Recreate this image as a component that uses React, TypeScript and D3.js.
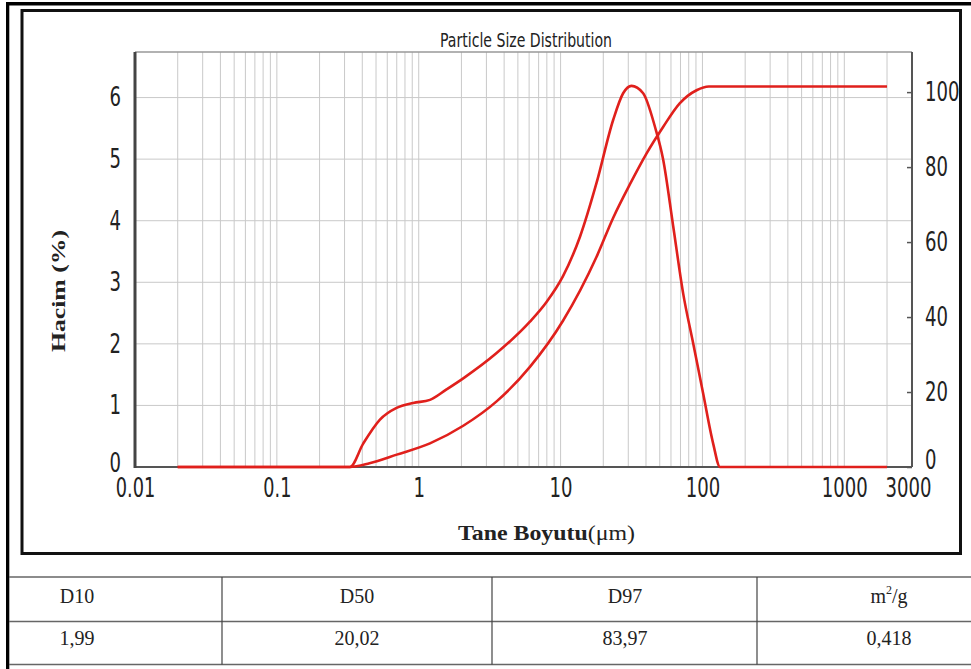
import * as d3 from 'd3';
import React, { useEffect, useRef } from 'react';

// frequency curve (Hacim %, left axis)
const freqSize = [0.02, 0.327, 0.406, 0.533, 0.698, 0.914, 1.2, 1.57, 2.06, 3.54, 6.08, 7.96, 10.4, 13.7, 17.9, 23.5, 27.6, 31.6, 38.2, 46.2, 52.8, 62.2, 73.1, 86, 101, 119, 133, 2000];
const freqVolume = [0, 0, 0.38, 0.77, 0.96, 1.04, 1.09, 1.26, 1.44, 1.85, 2.36, 2.68, 3.1, 3.74, 4.61, 5.64, 6.07, 6.19, 6.07, 5.53, 5.0, 3.91, 2.82, 2.01, 1.2, 0.38, 0, 0];

// cumulative curve (right axis)
const cumSize = [0.02, 0.327, 0.45, 0.7, 1.2, 2.06, 3.54, 6.08, 10.4, 17.9, 23.5, 30.9, 40.3, 52.8, 69.1, 90.9, 111, 2000];
const cumVolume = [0, 0, 1, 3.3, 6.3, 11, 17.5, 26.7, 39, 56, 66.5, 75.5, 83.6, 90.7, 97, 100.5, 101.5, 101.5];

const xTicks = [0.01, 0.1, 1, 10, 100, 1000, 3000];
const leftTicks = [0, 1, 2, 3, 4, 5, 6];
const rightTicks = [0, 20, 40, 60, 80, 100];

const tableHeaders = ['D10', 'D50', 'D97', 'm²/g'];
const tableValues = ['1,99', '20,02', '83,97', '0,418'];

const NARROW = "'Liberation Sans Narrow', 'DejaVu Sans Condensed', sans-serif";
const SERIF = "'Liberation Serif', 'Times New Roman', serif";
const RED = '#e0201c';

// narrow digits: about 11.5px per digit, 5px for a dot
const labelWidth = (s: string) => s.replace('.', '').length * 11.5 + (s.includes('.') ? 5 : 0);

export default function App() {
  const ref = useRef<SVGSVGElement>(null);

  useEffect(() => {
    const svg = d3.select(ref.current);
    svg.selectAll('*').remove();

    const left = 135, right = 912, top = 52, bottom = 467;
    const x = d3.scaleLog().domain([0.01, 3000]).range([left, right]);
    const yL = d3.scaleLinear().domain([0, 6.74]).range([bottom, top]);
    const yR = d3.scaleLinear().domain([0, 110.7]).range([bottom, top]);

    svg.append('rect').attr('width', 971).attr('height', 669).attr('fill', '#fff');

    // frames
    svg.append('rect').attr('x', 6).attr('y', 2).attr('width', 965).attr('height', 3.5).attr('fill', '#000');
    svg.append('rect').attr('x', 6).attr('y', 2).attr('width', 3.3).attr('height', 667).attr('fill', '#000');
    svg.append('rect').attr('x', 22).attr('y', 10.5).attr('width', 938.5).attr('height', 543)
      .attr('fill', 'none').attr('stroke', '#111').attr('stroke-width', 3);

    // grid
    const grid = svg.append('g');
    grid.selectAll('line.v')
      .data(x.ticks().filter(d => d > 0.01 && d < 3000))
      .enter().append('line')
      .attr('x1', d => x(d)).attr('x2', d => x(d))
      .attr('y1', top).attr('y2', bottom)
      .attr('stroke', '#c9c9c9').attr('stroke-width', 1);
    grid.selectAll('line.h')
      .data(leftTicks.filter(d => d > 0))
      .enter().append('line')
      .attr('x1', left).attr('x2', right)
      .attr('y1', d => yL(d)).attr('y2', d => yL(d))
      .attr('stroke', '#c9c9c9').attr('stroke-width', 1);

    // plot frame
    svg.append('line').attr('x1', left).attr('x2', right).attr('y1', top).attr('y2', top)
      .attr('stroke', '#999').attr('stroke-width', 1.5);
    svg.append('line').attr('x1', right).attr('x2', right).attr('y1', top).attr('y2', bottom)
      .attr('stroke', '#555').attr('stroke-width', 2);
    svg.append('line').attr('x1', left).attr('x2', right).attr('y1', bottom).attr('y2', bottom)
      .attr('stroke', '#555').attr('stroke-width', 2);
    svg.append('line').attr('x1', left).attr('x2', left).attr('y1', top).attr('y2', bottom + 1)
      .attr('stroke', '#444').attr('stroke-width', 3);

    // axes
    const styleAxis = (g: any) => {
      g.select('.domain').remove();
      g.selectAll('text')
        .attr('font-family', NARROW).attr('font-size', 26).attr('fill', '#222')
        .attr('textLength', (d: number) => labelWidth(String(d)))
        .attr('lengthAdjust', 'spacingAndGlyphs');
    };
    svg.append('g').attr('transform', `translate(0,${bottom})`)
      .call(d3.axisBottom(x).tickValues(xTicks).tickSize(0).tickPadding(12).tickFormat(d => String(d)))
      .call(styleAxis)
      .call(g => g.selectAll('.tick text').filter((d: any) => d === 3000).attr('x', -4));
    svg.append('g').attr('transform', `translate(${left},0)`)
      .call(d3.axisLeft(yL).tickValues(leftTicks).tickSize(0).tickPadding(14).tickFormat(d => String(d)))
      .call(styleAxis)
      .call(g => g.selectAll('.tick text').filter((d: any) => d === 0).attr('y', -4));
    svg.append('g').attr('transform', `translate(${right},0)`)
      .call(d3.axisRight(yR).tickValues(rightTicks).tickSize(-5).tickPadding(13).tickFormat(d => String(d)))
      .call(styleAxis)
      .call(g => g.selectAll('.tick line').attr('stroke', '#555').attr('stroke-width', 1.5))
      .call(g => g.selectAll('.tick text').filter((d: any) => d === 0).attr('y', -7));

    // curves
    const freqLine = d3.line<number>()
      .x((d, i) => x(freqSize[i]))
      .y(d => yL(d))
      .curve(d3.curveMonotoneX);
    const cumLine = d3.line<number>()
      .x((d, i) => x(cumSize[i]))
      .y(d => yR(d))
      .curve(d3.curveMonotoneX);
    svg.append('path').attr('d', cumLine(cumVolume)).attr('fill', 'none')
      .attr('stroke', RED).attr('stroke-width', 2.6);
    svg.append('path').attr('d', freqLine(freqVolume)).attr('fill', 'none')
      .attr('stroke', RED).attr('stroke-width', 2.6);

    // titles
    svg.append('text').attr('x', 526).attr('y', 47).attr('text-anchor', 'middle')
      .attr('font-family', NARROW).attr('font-size', 20).attr('fill', '#222')
      .attr('textLength', 172).attr('lengthAdjust', 'spacingAndGlyphs')
      .text('Particle Size Distribution');

    const xl = svg.append('text').attr('x', 458).attr('y', 540)
      .attr('font-family', SERIF).attr('font-size', 21).attr('fill', '#222')
      .attr('textLength', 177).attr('lengthAdjust', 'spacingAndGlyphs');
    xl.append('tspan').attr('font-weight', 'bold').text('Tane Boyutu');
    xl.append('tspan').text('(μm)');

    svg.append('text').attr('transform', 'translate(65,291) rotate(-90)')
      .attr('text-anchor', 'middle')
      .attr('font-family', SERIF).attr('font-size', 19).attr('font-weight', 'bold').attr('fill', '#222')
      .attr('textLength', 122).attr('lengthAdjust', 'spacingAndGlyphs')
      .text('Hacim (%)');

    // table
    const rowY = [577, 621.5, 664.5];
    svg.selectAll('line.row').data(rowY).enter().append('line')
      .attr('x1', 9).attr('x2', 971).attr('y1', d => d).attr('y2', d => d)
      .attr('stroke', '#666').attr('stroke-width', 1.6);
    const colX = [222, 492, 757];
    svg.selectAll('line.col').data(colX).enter().append('line')
      .attr('x1', d => d).attr('x2', d => d).attr('y1', 577).attr('y2', 664.5)
      .attr('stroke', '#444').attr('stroke-width', 1.2);
    const textX = [77, 357, 625, 889];
    tableHeaders.forEach((h, i) => {
      const t = svg.append('text').attr('x', textX[i]).attr('y', 603).attr('text-anchor', 'middle')
        .attr('font-family', SERIF).attr('font-size', 20).attr('fill', '#222');
      if (h === 'm²/g') {
        t.append('tspan').text('m');
        t.append('tspan').attr('font-size', 12).attr('dy', -9).text('2');
        t.append('tspan').attr('dy', 9).text('/g');
      } else {
        t.text(h);
      }
    });
    tableValues.forEach((v, i) => {
      svg.append('text').attr('x', textX[i]).attr('y', 645).attr('text-anchor', 'middle')
        .attr('font-family', SERIF).attr('font-size', 20).attr('fill', '#222').text(v);
    });
  }, []);

  return (
    <svg ref={ref} width={971} height={669} style={{ position: 'absolute', left: 0, top: 0 }} />
  );
}
